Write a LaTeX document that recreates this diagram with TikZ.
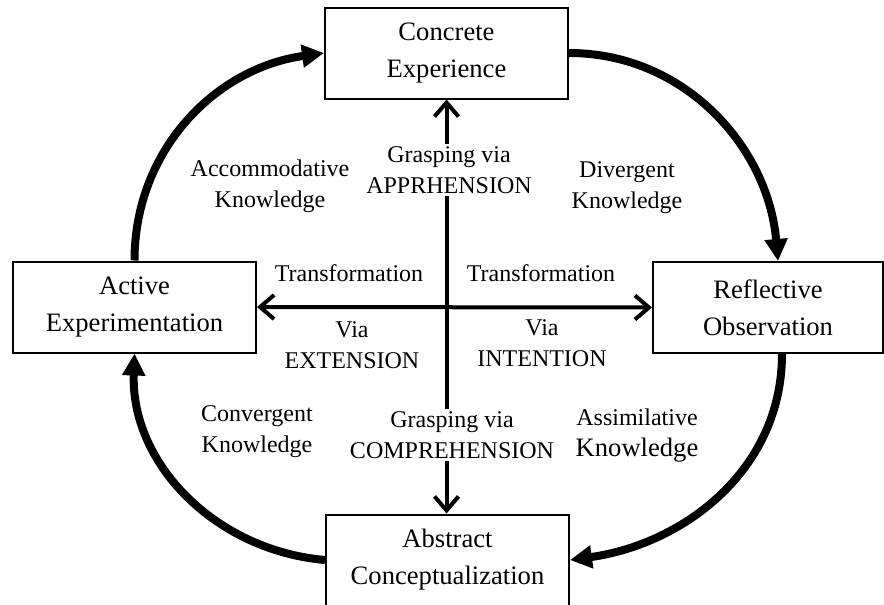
\documentclass[tikz,border=0pt]{standalone}
\usepackage{fontspec}
\setmainfont{Liberation Serif}
\usetikzlibrary{arrows.meta}

\begin{document}
\begin{tikzpicture}[
		x=0.5pt, y=0.5pt,
		etape/.style={rectangle, draw, line width=1pt, minimum width=121.5pt, minimum height=45.5pt, align=center, font=\fontsize{13.3}{18.5}\selectfont},
		texte/.style={align=center, font=\fontsize{12}{15.5}\selectfont},
		cycle/.style={line width=4pt, -{Triangle[length=11pt, width=11pt]}},
		axe/.style={line width=2pt, {Straight Barb[length=7pt, width=12pt]}-{Straight Barb[length=7pt, width=12pt]}}
		]
		\useasboundingbox (0,0) rectangle (884,-605);
		
		% Les etapes
		\node[etape] (CE) at (446.5,-53) {Concrete\\Experience};
		\node[etape] (AE) at (134.5,-307) {Active\\Experimentation};
		\node[etape, minimum width=115pt] (RO) at (768,-307.5) {Reflective\\Observation};
		\node[etape] (AC) at (447.5,-560) {Abstract\\Conceptualization};
		
		% Le cycle
		\draw[cycle] (AE.north) to[out=90, in=188] (CE.west);
		\draw[cycle] (CE.east) to[out=0, in=95] ([xshift=5pt]RO.north);
		\draw[cycle] ([xshift=7pt]RO.south) to[out=-90, in=8] (AC.east);
		\draw[cycle] (AC.west) to[out=175, in=-92] (AE.south);
		
		% Les axes
		\draw[axe] (CE.south) -- (CE.south |- AC.north);
		\draw[axe] (AE.east) -- (RO.west);
		
		% Les textes
		\node[texte, fill=white, inner sep=1pt] (GA) at (449,-170) {Grasping via\\APPRHENSION};
		\node[texte, fill=white, inner sep=1pt] (GC) at (452,-435) {Grasping via\\COMPREHENSION};
		\node[texte] (KA) at (270,-186) {Accommodative\\Knowledge};
		\node[texte] (KD) at (627,-188) {Divergent\\Knowledge};
		\node[texte] (KC) at (257,-432) {Convergent\\Knowledge};
		\node[texte] (KS) at (637,-436) {Assimilative\\{\fontsize{13.3}{15.5}\selectfont Knowledge}};
		\node[texte] (TE) at (349,-273) {Transformation};
		\node[texte] (TI) at (541,-273) {Transformation};
		\node[texte] (VE) at (352,-345) {Via\\EXTENSION};
		\node[texte] (VI) at (542,-343) {Via\\INTENTION};
	\end{tikzpicture}
\end{document}
